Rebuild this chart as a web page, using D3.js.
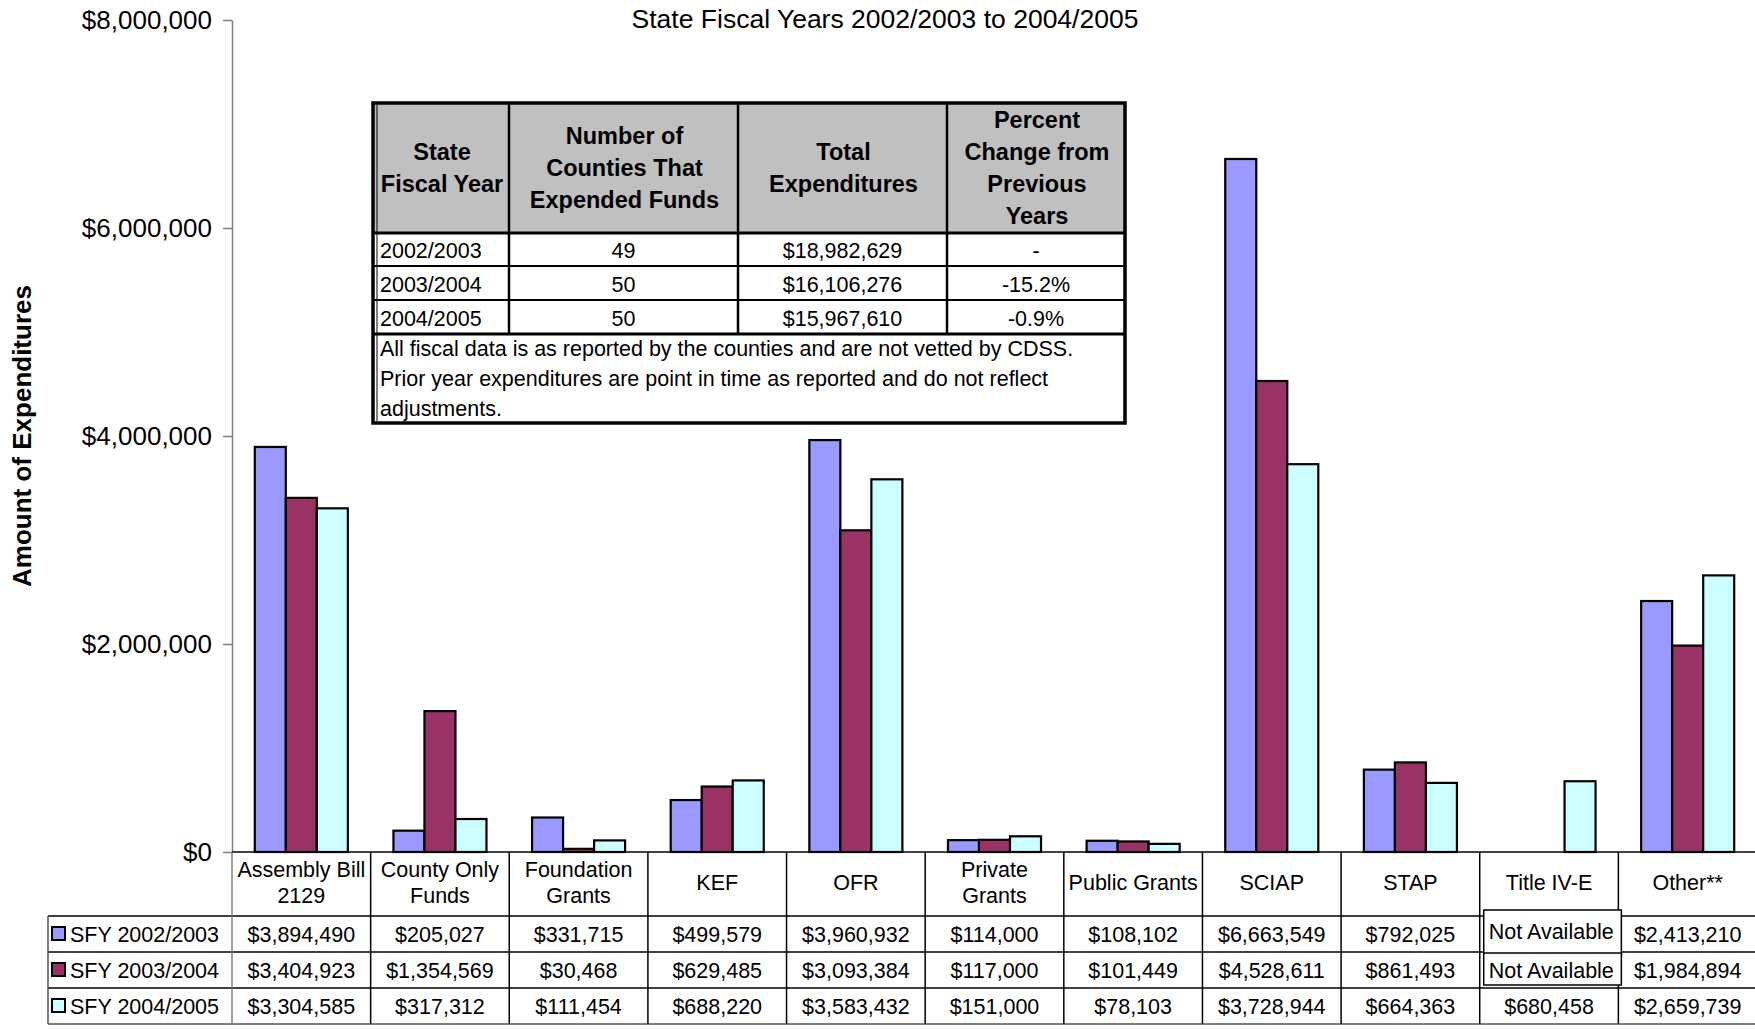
<!DOCTYPE html>
<html>
<head>
<meta charset="utf-8">
<script src="https://cdn.jsdelivr.net/npm/d3@7"></script>
<style>
  html, body { margin: 0; padding: 0; background: #fff; }
  svg { display: block; font-family: "Liberation Sans", Arial, sans-serif; }
</style>
</head>
<body>
<svg id="chart" width="1755" height="1030"></svg>
<script>
// ---------- DATA ----------
const categories = ["Assembly Bill 2129", "County Only Funds", "Foundation Grants", "KEF", "OFR",
  "Private Grants", "Public Grants", "SCIAP", "STAP", "Title IV-E", "Other**"];
const categoryLines = [["Assembly Bill", "2129"], ["County Only", "Funds"], ["Foundation", "Grants"], ["KEF"], ["OFR"],
  ["Private", "Grants"], ["Public Grants"], ["SCIAP"], ["STAP"], ["Title IV-E"], ["Other**"]];
const seriesNames = ["SFY 2002/2003", "SFY 2003/2004", "SFY 2004/2005"];
const values2002 = [3894490, 205027, 331715, 499579, 3960932, 114000, 108102, 6663549, 792025, null, 2413210];
const values2003 = [3404923, 1354569, 30468, 629485, 3093384, 117000, 101449, 4528611, 861493, null, 1984894];
const values2004 = [3304585, 317312, 111454, 688220, 3583432, 151000, 78103, 3728944, 664363, 680458, 2659739];
const seriesColors = ["#9999FF", "#993366", "#CCFFFF"];
const yTicks = [0, 2000000, 4000000, 6000000, 8000000];

const chartTitle = "State Fiscal Years 2002/2003 to 2004/2005";
const yAxisTitle = "Amount of Expenditures";
const missingText = "Not Available";

// inset summary table
const summaryHeaders = [["State", "Fiscal Year"], ["Number of", "Counties That", "Expended Funds"], ["Total", "Expenditures"], ["Percent", "Change from", "Previous", "Years"]];
const summaryYears = ["2002/2003", "2003/2004", "2004/2005"];
const summaryCounties = ["49", "50", "50"];
const summaryTotals = ["$18,982,629", "$16,106,276", "$15,967,610"];
const summaryChange = ["-", "-15.2%", "-0.9%"];
const summaryNote = ["All fiscal data is as reported by the counties and are not vetted by CDSS.",
  "Prior year expenditures are point in time as reported and do not reflect",
  "adjustments."];

// ---------- LAYOUT ----------
const seriesValues = [values2002, values2003, values2004];
const svg = d3.select("#chart");
const plotLeft = 232, plotRight = 1757, yBase = 852, yTop = 20;
const tableTop = 852, catRowBottom = 916, rowH = 36, legendLeft = 48;
const tableBottom = catRowBottom + rowH * 3;

const x0 = d3.scaleBand().domain(categories).range([plotLeft, plotRight]).paddingInner(0).paddingOuter(0);
const x1 = d3.scaleBand().domain(seriesNames).range([0, x0.bandwidth()]).paddingInner(0).paddingOuter(0.735);
const y = d3.scaleLinear().domain([0, 8000000]).range([yBase, yTop]);
const fmt = d3.format("$,");

// title
svg.append("text").attr("x", 885).attr("y", 28).attr("text-anchor", "middle")
  .attr("font-size", 26.5).attr("fill", "#000").text(chartTitle);

// y axis title
svg.append("text").attr("transform", "translate(31,436) rotate(-90)")
  .attr("text-anchor", "middle").attr("font-size", 26).attr("font-weight", "bold").text(yAxisTitle);

// y axis
const yAxis = svg.append("g").attr("transform", `translate(${plotLeft},0)`)
  .call(d3.axisLeft(y).tickValues(yTicks).tickFormat(fmt).tickSize(9).tickSizeOuter(0).tickPadding(11));
yAxis.select(".domain").attr("stroke", "#808080").attr("stroke-width", 1.5);
yAxis.selectAll(".tick line").attr("stroke", "#808080").attr("stroke-width", 1.5);
yAxis.selectAll(".tick text").attr("font-size", 26).attr("fill", "#000")
  .attr("font-family", "'Liberation Sans', Arial, sans-serif");

// bars
const barData = [];
categories.forEach((c, i) => seriesNames.forEach((s, j) => {
  if (seriesValues[j][i] != null) barData.push({ c, s, j, v: seriesValues[j][i] });
}));
svg.append("g").selectAll("rect").data(barData).join("rect")
  .attr("x", d => x0(d.c) + x1(d.s))
  .attr("y", d => y(d.v))
  .attr("width", x1.bandwidth())
  .attr("height", d => y(0) - y(d.v))
  .attr("fill", d => seriesColors[d.j])
  .attr("stroke", "#000").attr("stroke-width", 2.2);

// baseline
svg.append("line").attr("x1", plotLeft).attr("x2", plotRight).attr("y1", yBase).attr("y2", yBase)
  .attr("stroke", "#000").attr("stroke-width", 1.5);

// ---------- DATA TABLE BELOW ----------
const tg = svg.append("g");
[catRowBottom, catRowBottom + rowH, catRowBottom + 2 * rowH, tableBottom].forEach((yy, k) => {
  tg.append("line").attr("x1", legendLeft).attr("x2", plotRight).attr("y1", yy).attr("y2", yy)
    .attr("stroke", k === 3 ? "#555" : "#000").attr("stroke-width", 1.5);
});
tg.append("line").attr("x1", legendLeft).attr("x2", legendLeft).attr("y1", catRowBottom).attr("y2", tableBottom)
  .attr("stroke", "#555").attr("stroke-width", 1.5);
tg.append("line").attr("x1", plotLeft).attr("x2", plotLeft).attr("y1", tableTop).attr("y2", tableBottom)
  .attr("stroke", "#808080").attr("stroke-width", 1.5);
categories.forEach(c => {
  const xr = x0(c) + x0.bandwidth();
  tg.append("line").attr("x1", xr).attr("x2", xr).attr("y1", tableTop).attr("y2", tableBottom)
    .attr("stroke", "#000").attr("stroke-width", 1.5);
});
// category labels
categories.forEach((c, i) => {
  const lines = categoryLines[i];
  const cx = x0(c) + x0.bandwidth() / 2;
  const midY = (tableTop + catRowBottom) / 2 - 1.5;
  lines.forEach((ln, k) => {
    const dy = (k - (lines.length - 1) / 2) * 26;
    tg.append("text").attr("x", cx).attr("y", midY + dy).attr("dy", "0.35em")
      .attr("text-anchor", "middle").attr("font-size", 21.5).text(ln);
  });
});
// series rows
seriesNames.forEach((s, j) => {
  const rowMid = catRowBottom + rowH * j + rowH / 2;
  tg.append("rect").attr("x", 52).attr("y", rowMid - 7).attr("width", 13).attr("height", 13)
    .attr("fill", seriesColors[j]).attr("stroke", "#000").attr("stroke-width", 2);
  tg.append("text").attr("x", 70).attr("y", rowMid).attr("dy", "0.35em")
    .attr("font-size", 21.5).text(s);
  categories.forEach((c, i) => {
    const v = seriesValues[j][i];
    if (v == null) {
      const bx = x0(c) + 4;
      const by = j === 0 ? rowMid - 24 : rowMid - 17;
      const bh = j === 0 ? 45 : 32;
      tg.append("rect").attr("x", bx).attr("y", by).attr("width", x0.bandwidth() - 1).attr("height", bh)
        .attr("fill", "#fff").attr("stroke", "#000").attr("stroke-width", 1.5);
      tg.append("text").attr("x", bx + 5).attr("y", j === 0 ? rowMid - 3 : rowMid).attr("dy", "0.35em")
        .attr("font-size", 21.5).text(missingText);
    } else {
      tg.append("text").attr("x", x0(c) + x0.bandwidth() / 2).attr("y", rowMid).attr("dy", "0.35em")
        .attr("text-anchor", "middle").attr("font-size", 21.5).text(fmt(v));
    }
  });
});

// ---------- INSET SUMMARY TABLE ----------
const colX = [373, 509, 738, 947, 1125];
const rowY = [103, 233, 266, 300, 334, 423];
const ig = svg.append("g");
ig.append("rect").attr("x", colX[0]).attr("y", rowY[0]).attr("width", colX[4] - colX[0]).attr("height", rowY[5] - rowY[0])
  .attr("fill", "#fff");
ig.append("rect").attr("x", colX[0]).attr("y", rowY[0]).attr("width", colX[4] - colX[0]).attr("height", rowY[1] - rowY[0])
  .attr("fill", "#C0C0C0");
[1, 2, 3].forEach(k => ig.append("line").attr("x1", colX[k]).attr("x2", colX[k]).attr("y1", rowY[0]).attr("y2", rowY[4])
  .attr("stroke", "#000").attr("stroke-width", 2.5));
[1, 2, 3, 4].forEach(k => ig.append("line").attr("x1", colX[0]).attr("x2", colX[4]).attr("y1", rowY[k]).attr("y2", rowY[k])
  .attr("stroke", "#000").attr("stroke-width", k === 1 || k === 4 ? 3 : 2));
ig.append("rect").attr("x", colX[0]).attr("y", rowY[0]).attr("width", colX[4] - colX[0]).attr("height", rowY[5] - rowY[0])
  .attr("fill", "none").attr("stroke", "#000").attr("stroke-width", 3.5);
ig.append("line").attr("x1", colX[0] + 4).attr("x2", colX[0] + 4).attr("y1", rowY[0] + 2).attr("y2", rowY[5] - 2)
  .attr("stroke", "#000").attr("stroke-width", 1);
summaryHeaders.forEach((lines, k) => {
  const cx = (colX[k] + colX[k + 1]) / 2 + 1;
  const midY = (rowY[0] + rowY[1]) / 2;
  lines.forEach((ln, m) => {
    ig.append("text").attr("x", cx).attr("y", midY + (m - (lines.length - 1) / 2) * 32).attr("dy", "0.35em")
      .attr("text-anchor", "middle").attr("font-size", 23.5).attr("font-weight", "bold").text(ln);
  });
});
summaryYears.forEach((yr, r) => {
  const my = (rowY[r + 1] + rowY[r + 2]) / 2 + 1;
  ig.append("text").attr("x", colX[0] + 7).attr("y", my).attr("dy", "0.35em").attr("font-size", 21.5).text(yr);
  [summaryCounties[r], summaryTotals[r], summaryChange[r]].forEach((t, k) => {
    ig.append("text").attr("x", (colX[k + 1] + colX[k + 2]) / 2).attr("y", my).attr("dy", "0.35em")
      .attr("text-anchor", "middle").attr("font-size", 21.5).text(t);
  });
});
summaryNote.forEach((ln, m) => {
  ig.append("text").attr("x", colX[0] + 7).attr("y", 348 + m * 30).attr("dy", "0.35em").attr("font-size", 21.5).text(ln);
});
</script>
</body>
</html>
